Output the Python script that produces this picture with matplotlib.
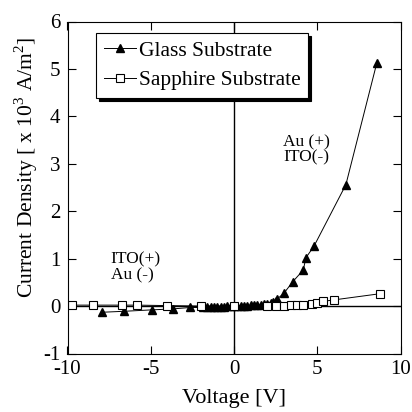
import numpy as np
import matplotlib
matplotlib.use('Agg')
from matplotlib import pyplot as plt

plt.rcParams['font.family'] = ['Liberation Serif', 'DejaVu Serif']
plt.rcParams['mathtext.fontset'] = 'custom'
plt.rcParams['mathtext.rm'] = 'Liberation Serif'
plt.rcParams['axes.unicode_minus'] = False

# Glass substrate (triangles)
glass_v = [-7.9, -6.6, -4.94, -3.68, -2.64, -1.88, -1.6, -1.4, -1.2, -1.0, -0.8, -0.6,
           -0.4, -0.2, 0.0, 0.2, 0.4, 0.6, 0.8, 1.0, 1.2, 1.4, 1.6, 1.8, 2.0, 2.2,
           2.35, 2.5, 2.56, 3.0, 3.52, 4.16, 4.32, 4.8, 6.72, 8.58]
glass_j = [-0.13, -0.11, -0.08, -0.06, -0.03, -0.03, -0.02, -0.02, -0.015, -0.01, -0.01, -0.01,
           -0.005, 0.0, 0.0, 0.0, 0.005, 0.01, 0.01, 0.015, 0.02, 0.02, 0.03, 0.04, 0.05, 0.07,
           0.08, 0.1, 0.14, 0.27, 0.51, 0.76, 1.02, 1.26, 2.56, 5.13]

# Sapphire substrate (open squares)
sapph_v = [-9.74, -8.44, -6.74, -5.8, -4.0, -2.0, 0.0, 2.0, 2.54, 3.0, 3.4, 3.76, 4.16,
           4.66, 4.96, 5.36, 6.0, 8.76]
sapph_j = [0.02, 0.02, 0.02, 0.02, 0.01, 0.0, 0.0, 0.01, 0.01, 0.01, 0.02, 0.02, 0.03,
           0.05, 0.07, 0.1, 0.13, 0.26]

fig = plt.figure(figsize=(4.12, 4.12), dpi=100)
ax = fig.add_axes([67.5 / 412, 1 - 353.5 / 412, 333 / 412, 332 / 412])

ax.axhline(0, color='black', lw=1.0, zorder=1)
ax.axvline(0, color='black', lw=1.0, zorder=1)

g, = ax.plot(glass_v, glass_j, '-', color='black', lw=0.7, marker='^', ms=5.5,
             mfc='black', mec='black', label='Glass Substrate')
s, = ax.plot(sapph_v, sapph_j, '-', color='black', lw=0.7, marker='s', ms=5.5,
             mfc='white', mec='black', mew=0.8, label='Sapphire Substrate')

ax.set_xlim(-10, 10)
ax.set_ylim(-1, 6)
ax.set_xticks([-10, -5, 0, 5, 10])
ax.set_yticks(range(-1, 7))
ax.tick_params(direction='in', top=True, right=True, length=6, labelsize=15, pad=5)
for sp in ax.spines.values():
    sp.set_linewidth(0.8)

ax.set_xlabel('Voltage [V]', fontsize=16, labelpad=7)
ax.set_ylabel('Current Density [ x 10$^3$ A/m$^2$]', fontsize=15.5)
ax.yaxis.set_label_coords(-0.083, 0.56)

ax.text(2.95, 3.62, 'Au (+)\nITO(-)', fontsize=12.5, va='top', linespacing=0.95)
ax.text(-7.4, 1.15, 'ITO(+)\nAu (-)', fontsize=12.5, va='top', linespacing=0.95)

leg = ax.legend(handles=[g, s], loc='upper left', bbox_to_anchor=(0.086, 0.965),
                fontsize=15.5, frameon=True, fancybox=False, shadow={'color': 'black', 'alpha': 1},
                handlelength=1.5, handletextpad=0.15, borderpad=0.35, labelspacing=0.45,
                borderaxespad=0)
leg.get_frame().set_edgecolor('black')
leg.get_frame().set_linewidth(0.8)

fig.savefig('out.png', dpi=100)
